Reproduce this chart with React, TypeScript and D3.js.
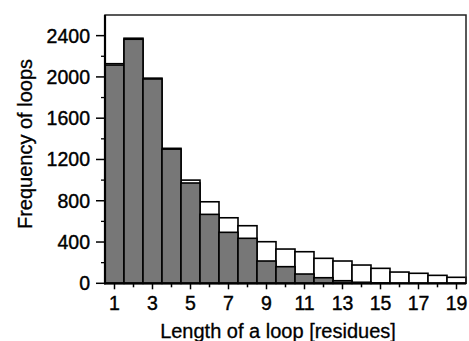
import React, { Component } from 'react';
import * as d3 from 'd3';

// loop length in residues
const loopLengths = [1, 2, 3, 4, 5, 6, 7, 8, 9, 10, 11, 12, 13, 14, 15, 16, 17, 18, 19];
// all loops (white bars, drawn behind)
const allLoops = [2128, 2375, 1988, 1308, 1000, 790, 635, 558, 403, 332, 306, 242, 216, 177, 145, 109, 97, 77, 58];
// subset (grey bars, drawn in front)
const subsetLoops = [2115, 2365, 1980, 1300, 972, 668, 494, 436, 216, 161, 90, 54, 25, 10, 3, 0, 0, 0, 0];

const yMajorTicks = [0, 400, 800, 1200, 1600, 2000, 2400];
const yMinorTicks = [200, 600, 1000, 1400, 1800, 2200];
const xLabelTicks = [1, 3, 5, 7, 9, 11, 13, 15, 17, 19];

export default class App extends Component {
    private canvas: any;
    private width: number;
    private height: number;
    private margin: { top: number, right: number, bottom: number, left: number };

    constructor(props: any) {
        super(props);
        this.canvas = React.createRef();
        this.width = 469;
        this.height = 341;
        this.margin = { top: 15, right: 3, bottom: 57.7, left: 105 };
    }

    componentDidMount() {
        this.buildChart();
    }

    buildChart = () => {
        const m = this.margin;
        const svg = d3.select(this.canvas.current)
            .append('svg')
            .attr('width', this.width)
            .attr('height', this.height)
            .style('position', 'absolute')
            .style('left', '0px')
            .style('top', '0px')
            .style('font-family', '"Liberation Sans", Arial, Helvetica, sans-serif');

        svg.append('rect')
            .attr('width', this.width)
            .attr('height', this.height)
            .attr('fill', '#ffffff');

        const x = d3.scaleLinear()
            .domain([0.5, 19.5])
            .range([m.left, this.width - m.right]);
        const y = d3.scaleLinear()
            .domain([0, 2600])
            .range([this.height - m.bottom, m.top]);

        const bw = x(1.5) - x(0.5);

        // white bars (all loops)
        svg.selectAll('.allBar')
            .data(loopLengths)
            .enter().append('rect')
            .attr('class', 'allBar')
            .attr('x', (d: number) => x(d - 0.5))
            .attr('y', (d: number, i: number) => y(allLoops[i]))
            .attr('width', bw)
            .attr('height', (d: number, i: number) => y(0) - y(allLoops[i]))
            .attr('fill', '#ffffff')
            .attr('stroke', '#000')
            .attr('stroke-width', 1.6);

        // grey bars
        svg.selectAll('.subBar')
            .data(loopLengths.filter((d, i) => subsetLoops[i] > 0))
            .enter().append('rect')
            .attr('class', 'subBar')
            .attr('x', (d: number) => x(d - 0.5))
            .attr('y', (d: number) => y(subsetLoops[d - 1]))
            .attr('width', bw)
            .attr('height', (d: number) => y(0) - y(subsetLoops[d - 1]))
            .attr('fill', '#777777')
            .attr('stroke', '#000')
            .attr('stroke-width', 1.6);

        // frame
        svg.append('rect')
            .attr('x', x(0.5))
            .attr('y', y(2600))
            .attr('width', x(19.5) - x(0.5))
            .attr('height', y(0) - y(2600))
            .attr('fill', 'none')
            .attr('stroke', '#222')
            .attr('stroke-width', 1.5);
        svg.append('line')
            .attr('x1', x(0.5)).attr('x2', x(0.5))
            .attr('y1', y(2600)).attr('y2', y(0) + 1)
            .attr('stroke', '#000').attr('stroke-width', 2.2);
        svg.append('line')
            .attr('x1', x(0.5) - 1).attr('x2', x(19.5))
            .attr('y1', y(0)).attr('y2', y(0))
            .attr('stroke', '#000').attr('stroke-width', 2.2);

        // y ticks
        svg.selectAll('.yMajor')
            .data(yMajorTicks)
            .enter().append('line')
            .attr('x1', x(0.5) - 9).attr('x2', x(0.5))
            .attr('y1', (d: number) => y(d)).attr('y2', (d: number) => y(d))
            .attr('stroke', '#000').attr('stroke-width', 1.5);
        svg.selectAll('.yMinor')
            .data(yMinorTicks)
            .enter().append('line')
            .attr('x1', x(0.5) - 4).attr('x2', x(0.5))
            .attr('y1', (d: number) => y(d)).attr('y2', (d: number) => y(d))
            .attr('stroke', '#000').attr('stroke-width', 1.3);
        svg.selectAll('.yLabel')
            .data(yMajorTicks)
            .enter().append('text')
            .attr('x', x(0.5) - 15)
            .attr('y', (d: number) => y(d))
            .attr('dy', '0.36em')
            .attr('text-anchor', 'end')
            .attr('font-size', 19.5)
            .attr('fill', '#000')
            .attr('stroke', '#000')
            .attr('stroke-width', 0.4)
            .text((d: number) => d);

        // x ticks
        svg.selectAll('.xTick')
            .data(loopLengths)
            .enter().append('line')
            .attr('x1', (d: number) => x(d)).attr('x2', (d: number) => x(d))
            .attr('y1', y(0))
            .attr('y2', (d: number) => y(0) + (d % 2 === 1 ? 6 : 4))
            .attr('stroke', '#000').attr('stroke-width', 1.5);
        svg.selectAll('.xLabel')
            .data(xLabelTicks)
            .enter().append('text')
            .attr('x', (d: number) => x(d))
            .attr('y', y(0) + 27)
            .attr('text-anchor', 'middle')
            .attr('font-size', 19.5)
            .attr('fill', '#000')
            .attr('stroke', '#000')
            .attr('stroke-width', 0.4)
            .text((d: number) => d);

        // axis titles
        svg.append('text')
            .attr('x', 278)
            .attr('y', 338)
            .attr('text-anchor', 'middle')
            .attr('font-size', 20)
            .attr('fill', '#000')
            .attr('stroke', '#000')
            .attr('stroke-width', 0.3)
            .text('Length of a loop [residues]');
        svg.append('text')
            .attr('transform', 'translate(31.5,144) rotate(-90)')
            .attr('text-anchor', 'middle')
            .attr('font-size', 20)
            .attr('fill', '#000')
            .attr('stroke', '#000')
            .attr('stroke-width', 0.3)
            .text('Frequency of loops');
    }

    render() {
        return (
            <div>
                <div className="loopChart" ref={this.canvas}></div>
            </div>
        )
    }
}
